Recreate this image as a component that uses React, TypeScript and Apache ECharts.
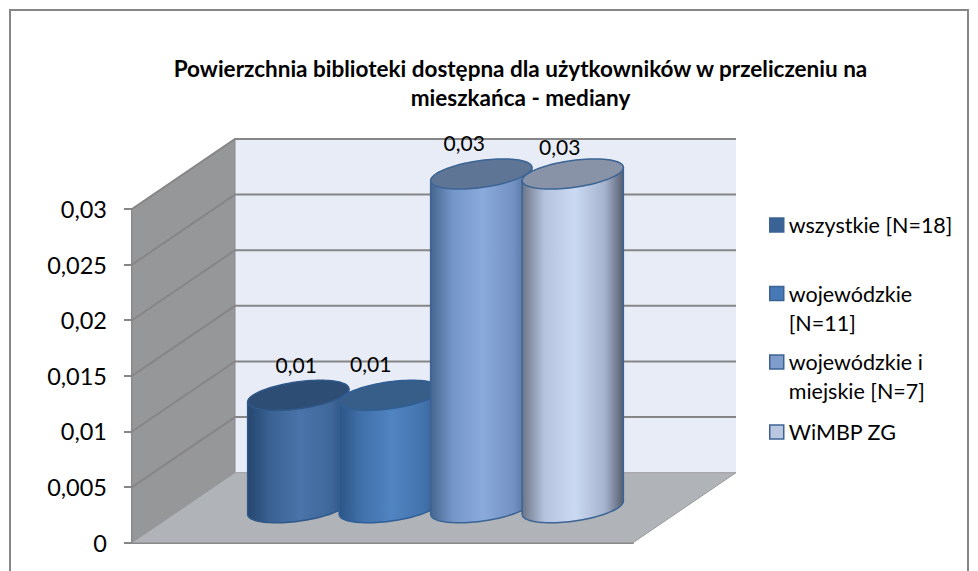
import React, { useEffect, useRef } from "react";
import * as echarts from "echarts";

const titleLines = [
  "Powierzchnia biblioteki dostępna dla użytkowników w przeliczeniu na",
  "mieszkańca - mediany",
];
const categories = [""];
const seriesNames = [
  "wszystkie [N=18]",
  "wojewódzkie [N=11]",
  "wojewódzkie i miejskie [N=7]",
  "WiMBP ZG",
];
const legendLines = [
  "wszystkie [N=18]",
  "\nwojewódzkie\n[N=11]",
  "\nwojewódzkie i\nmiejskie [N=7]",
  "WiMBP ZG",
];
const medians = [0.0101, 0.0101, 0.03, 0.03];
const yTicks = [0, 0.005, 0.01, 0.015, 0.02, 0.025, 0.03];

const FONT = "Lato, 'Open Sans', sans-serif";
const DEPTH_X = 103;
const DEPTH_Y = -70;
const RADIUS_W = 45.5;
const RADIUS_D = 0.215;
const BAR_STEP = 91.5;
const BAR_SHIFT = 1.5;

const barStyles = [
  {
    stops: ["#25466F", "#3A6192", "#4A74AA", "#3F689A", "#2C4C75"],
    top: "#2D4D75",
    edge: "#2F5788",
    legend: "#3A6295",
    label: [-2, -31],
  },
  {
    stops: ["#2C5586", "#4170A9", "#5184C2", "#4474AE", "#345F92"],
    top: "#375D89",
    edge: "#2F5F96",
    legend: "#4679B5",
    label: [-19, -32],
  },
  {
    stops: ["#46668F", "#7596C8", "#8AAADC", "#7391C2", "#4B6890"],
    top: "#5E7596",
    edge: "#3B6494",
    legend: "#809CCB",
    label: [-17, -32],
  },
  {
    stops: ["#6C7586", "#B5C3DE", "#CBDAF3", "#A5B2CD", "#565E6E"],
    top: "#8893A7",
    edge: "#3B6494",
    legend: "#B9C7E0",
    label: [-13, -28],
  },
];
const stopOffsets = [0, 0.22, 0.52, 0.82, 1];
const legendTops = [210.5, 250, 318.5, 417.5];

function ellipsePoint(cx: number, cy: number, t: number) {
  return [
    cx + RADIUS_W * Math.cos(t) + DEPTH_X * RADIUS_D * Math.sin(t),
    cy + DEPTH_Y * RADIUS_D * Math.sin(t),
  ];
}

function arcPoints(cx: number, cy: number, from: number, to: number, n: number) {
  const out: number[][] = [];
  for (let i = 0; i <= n; i++) out.push(ellipsePoint(cx, cy, from + ((to - from) * i) / n));
  return out;
}

function renderCylinder(index: number) {
  return (_params: any, api: any) => {
    const st = barStyles[index];
    const value = api.value(1);
    const top = api.coord([api.value(0), value]);
    const base = api.coord([api.value(0), 0]);
    const cx = top[0] + (index - 1.5) * BAR_STEP + BAR_SHIFT + DEPTH_X / 2;
    const topY = top[1] + DEPTH_Y / 2;
    const baseY = base[1] + DEPTH_Y / 2;
    const t0 = Math.atan2(DEPTH_X * RADIUS_D, RADIUS_W);
    const front = arcPoints(cx, baseY, t0, t0 - Math.PI, 48);
    const right = ellipsePoint(cx, topY, t0);
    const left = ellipsePoint(cx, topY, t0 - Math.PI);
    const body = [right, ...front, left];
    const lid = arcPoints(cx, topY, 0, Math.PI * 2, 96);
    const stroke = { stroke: st.edge, lineWidth: 1.5 };
    return {
      type: "group",
      children: [
        {
          type: "polygon",
          shape: { points: body },
          style: {
            fill: {
              type: "linear",
              x: 0,
              y: 0,
              x2: 1,
              y2: 0,
              colorStops: st.stops.map((color, i) => ({ offset: stopOffsets[i], color })),
            },
            ...stroke,
          },
        },
        { type: "polygon", shape: { points: lid }, style: { fill: st.top, ...stroke } },
        {
          type: "text",
          style: {
            text: value.toFixed(2).replace(".", ","),
            x: cx + st.label[0],
            y: topY + st.label[1],
            fill: "#000000",
            font: `21px ${FONT}`,
            textAlign: "center",
            verticalAlign: "middle",
          },
        },
      ],
    };
  };
}

function renderWalls(params: any, api: any) {
  const grid = params.coordSys;
  const x0 = grid.x;
  const x1 = grid.x + grid.width;
  const yTop = api.coord([0, yTicks[yTicks.length - 1]])[1];
  const yBot = api.coord([0, 0])[1];
  const bx0 = x0 + DEPTH_X;
  const bx1 = x1 + DEPTH_X;
  const y = api.coord([0, api.value(0)])[1];
  const line = { stroke: "#868686", lineWidth: 2 };
  const gridLine = {
    type: "polyline",
    shape: { points: [[x0, y], [bx0, y + DEPTH_Y], [bx1, y + DEPTH_Y]] },
    style: { fill: "none", ...line },
  };
  if (params.dataIndex > 0) return gridLine;
  return {
    type: "group",
    children: [
      {
        type: "polygon",
        shape: { points: [[bx0, yTop + DEPTH_Y], [bx1, yTop + DEPTH_Y], [bx1, yBot + DEPTH_Y], [bx0, yBot + DEPTH_Y]] },
        style: { fill: "#E7ECF6" },
      },
      {
        type: "polygon",
        shape: { points: [[x0, yTop], [bx0, yTop + DEPTH_Y], [bx0, yBot + DEPTH_Y], [x0, yBot]] },
        style: { fill: "#969799", stroke: "#8A8B8D", lineWidth: 1 },
      },
      {
        type: "polygon",
        shape: { points: [[x0, yBot], [x1, yBot], [bx1, yBot + DEPTH_Y], [bx0, yBot + DEPTH_Y]] },
        style: { fill: "#B0B3B8", stroke: "#9A9B9D", lineWidth: 1 },
      },
    ],
  };
}

export default function App() {
  const ref = useRef<HTMLDivElement>(null);
  useEffect(() => {
    document.body.style.margin = "0";
    const chart = echarts.init(ref.current!, null, { renderer: "svg" });
    chart.setOption({
      animation: false,
      backgroundColor: "#FFFFFF",
      title: {
        text: titleLines.join("\n"),
        left: 515.5,
        top: 49,
        textAlign: "center",
        textStyle: { fontFamily: FONT, fontWeight: "bold", fontSize: 22.5, lineHeight: 29, color: "#000000" },
      },
      grid: { left: 132, top: 209, width: 501, height: 333.7 },
      xAxis: {
        type: "category",
        data: categories,
        axisLine: { show: true, lineStyle: { color: "#868686", width: 2 } },
        axisTick: { show: false },
        axisLabel: { show: false },
        splitLine: { show: false },
      },
      yAxis: {
        type: "value",
        min: 0,
        max: 0.03,
        interval: 0.005,
        axisLine: { show: true, lineStyle: { color: "#868686", width: 2 } },
        axisTick: { show: true, length: 8, lineStyle: { color: "#868686", width: 2 } },
        axisLabel: {
          margin: 25,
          fontFamily: FONT,
          fontSize: 23.5,
          color: "#000000",
          formatter: (v: number) => String(v).replace(".", ","),
        },
        splitLine: { show: false },
      },
      legend: seriesNames.map((name, i) => ({
        data: [
          {
            name,
            icon: "rect",
            itemStyle: { color: barStyles[i].legend, borderColor: "#3B6494", borderWidth: 1.5 },
          },
        ],
        left: 769,
        top: legendTops[i],
        orient: "vertical",
        selectedMode: false,
        itemWidth: 14,
        itemHeight: 14,
        itemGap: 0,
        padding: 0,
        formatter: () => legendLines[i],
        textStyle: {
          fontFamily: FONT,
          fontSize: 21.5,
          lineHeight: 29,
          color: "#000000",
        },
      })),
      graphic: [
        {
          type: "rect",
          silent: true,
          shape: { x: 10, y: 10, width: 958, height: 580 },
          style: { fill: "none", stroke: "#868686", lineWidth: 2 },
        },
      ],
      series: [
        {
          type: "custom",
          name: "walls",
          data: yTicks.map((t) => [t]),
          encode: { y: 0 },
          renderItem: renderWalls,
          silent: true,
          z: 1,
        },
        ...seriesNames.map((name, i) => ({
          type: "custom",
          name,
          data: [[0, medians[i]]],
          encode: { x: 0, y: 1 },
          renderItem: renderCylinder(i),
          silent: true,
          z: 3,
        })),
      ],
    });
    return () => chart.dispose();
  }, []);
  return <div ref={ref} style={{ position: "fixed", left: 0, top: 0, width: 978, height: 571 }} />;
}
